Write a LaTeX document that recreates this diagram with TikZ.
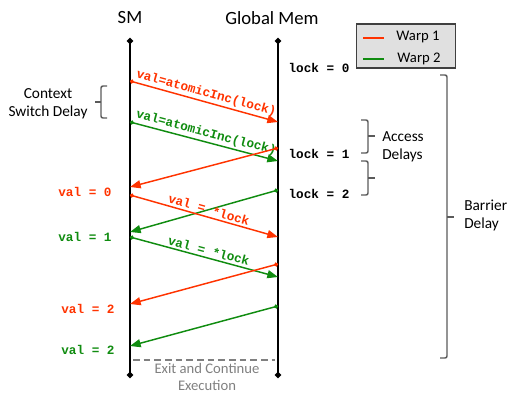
\documentclass[tikz,border=0pt]{standalone}
\usepackage{fontspec}
\setmainfont{Carlito}
\setmonofont{Liberation Mono}
\usetikzlibrary{arrows.meta}
\definecolor{warpone}{RGB}{255,51,0}
\definecolor{warptwo}{RGB}{16,140,16}
\definecolor{bracegray}{RGB}{90,90,90}
\tikzset{
  lifeline/.style={line width=1.6pt, {Circle[length=4.5pt]}-{Circle[length=4.5pt]}},
  msg/.style={line width=1.1pt, {Circle[length=3pt]}-{Triangle[length=8pt,width=6pt]}},
  msglabel/.style={font=\ttfamily\bfseries\fontsize{9.5}{10}\selectfont, anchor=south, inner sep=1.5pt},
  vallabel/.style={font=\ttfamily\bfseries\fontsize{9.5}{10}\selectfont, inner sep=0.75pt},
  sidetext/.style={font=\fontsize{11.5}{13.5}\selectfont, align=left, inner sep=0.75pt},
  delaybrace/.style={bracegray, line width=1.1pt, rounded corners=1.5pt},
}
\begin{document}
\begin{tikzpicture}[x=0.75pt,y=0.75pt,yscale=-1,xscale=1]
\useasboundingbox (0,0) rectangle (508,394);

% Lifelines
\coordinate (smtop) at (130,38);
\coordinate (smbot) at (130,378);
\coordinate (gmtop) at (278,38);
\coordinate (gmbot) at (278,378);
\draw [lifeline] (smtop) -- (smbot);
\draw [lifeline] (gmtop) -- (gmbot);

% Text Node
\node (sm) at (130,18) {\fontsize{14}{16}\selectfont SM};
% Text Node
\node (gm) at (272,18) {\fontsize{14}{16}\selectfont Global Mem};

% message end points
\coordinate (s1) at (130,81);   \coordinate (g1) at (278,122);
\coordinate (s2) at (130,122);  \coordinate (g2) at (278,161);
\coordinate (g3) at (278,148);  \coordinate (s3) at (130,187);
\coordinate (g4) at (278,190);  \coordinate (s4) at (130,232);
\coordinate (s5) at (130,195);  \coordinate (g5) at (278,237);
\coordinate (s6) at (130,237);  \coordinate (g6) at (278,277);
\coordinate (g7) at (278,264);  \coordinate (s7) at (130,304);
\coordinate (g8) at (278,306);  \coordinate (s8) at (130,346);

% Messages
\draw [msg, warpone] (s1) -- node [msglabel, rotate=-15.5] {val=atomicInc(lock)} (g1);
\draw [msg, warptwo] (s2) -- node [msglabel, rotate=-14.8] {val=atomicInc(lock)} (g2);
\draw [msg, warpone] (g3) -- (s3);
\draw [msg, warptwo] (g4) -- (s4);
\draw [msg, warpone] (s5) -- node [msglabel, rotate=-15.8, pos=0.52] {val = *lock} (g5);
\draw [msg, warptwo] (s6) -- node [msglabel, rotate=-15.1, pos=0.52] {val = *lock} (g6);
\draw [msg, warpone] (g7) -- (s7);
\draw [msg, warptwo] (g8) -- (s8);

% Values on the SM side
\node [vallabel, warpone] (val0) at (85,192) {val = 0};
\node [vallabel, warptwo] (val1) at (85,237) {val = 1};
\node [vallabel, warpone] (val2a) at (88,309) {val = 2};
\node [vallabel, warptwo] (val2b) at (88,350) {val = 2};

% Values on the memory side
\node [vallabel] (lock0) at (319,68) {lock = 0};
\node [vallabel] (lock1) at (319,154) {lock = 1};
\node [vallabel] (lock2) at (319,194) {lock = 2};

% Context switch brace
\draw [delaybrace] (107,86) -- (101,86) -- (101,118) -- (107,118);
\draw [delaybrace] (101,102) -- (95,102);
\node [sidetext, align=center] (ctx) at (48,104) {Context\\Switch Delay};

% Access delay braces
\draw [delaybrace] (361,120) -- (368,120) -- (368,153) -- (361,153);
\draw [delaybrace] (368,136) -- (375,136);
\draw [delaybrace] (361,161) -- (368,161) -- (368,195) -- (361,195);
\draw [delaybrace] (368,178) -- (375,178);
\node [sidetext, anchor=west] (access) at (381,147) {Access\\Delays};

% Barrier brace
\draw [delaybrace] (440,75) -- (447,75) -- (447,358) -- (440,358);
\draw [delaybrace] (447,217) -- (454,217);
\node [sidetext, anchor=west] (barrier) at (463,215) {Barrier\\Delay};

% Exit line
\coordinate (exitl) at (133,360);
\coordinate (exitr) at (275,360);
\draw [gray, line width=1.1pt, dash pattern={on 5pt off 3pt}] (exitl) -- (exitr);
\node [sidetext, gray, align=center, font=\fontsize{11}{13}\selectfont] (exit) at (207,377) {Exit and Continue\\Execution};

% Legend
\node [draw=black!75, fill=black!12, line width=0.8pt, minimum width=74pt, minimum height=33pt, inner sep=0pt] (legend) at (406,46) {};
\coordinate (l1a) at (363,38); \coordinate (l1b) at (384,38);
\coordinate (l2a) at (363,59); \coordinate (l2b) at (384,59);
\draw [warpone, line width=1.1pt] (l1a) -- (l1b);
\draw [warptwo, line width=1.1pt] (l2a) -- (l2b);
\node [sidetext, font=\fontsize{11}{13}\selectfont] (w1) at (418,37) {Warp 1};
\node [sidetext, font=\fontsize{11}{13}\selectfont] (w2) at (419,59) {Warp 2};

\end{tikzpicture}
\end{document}
